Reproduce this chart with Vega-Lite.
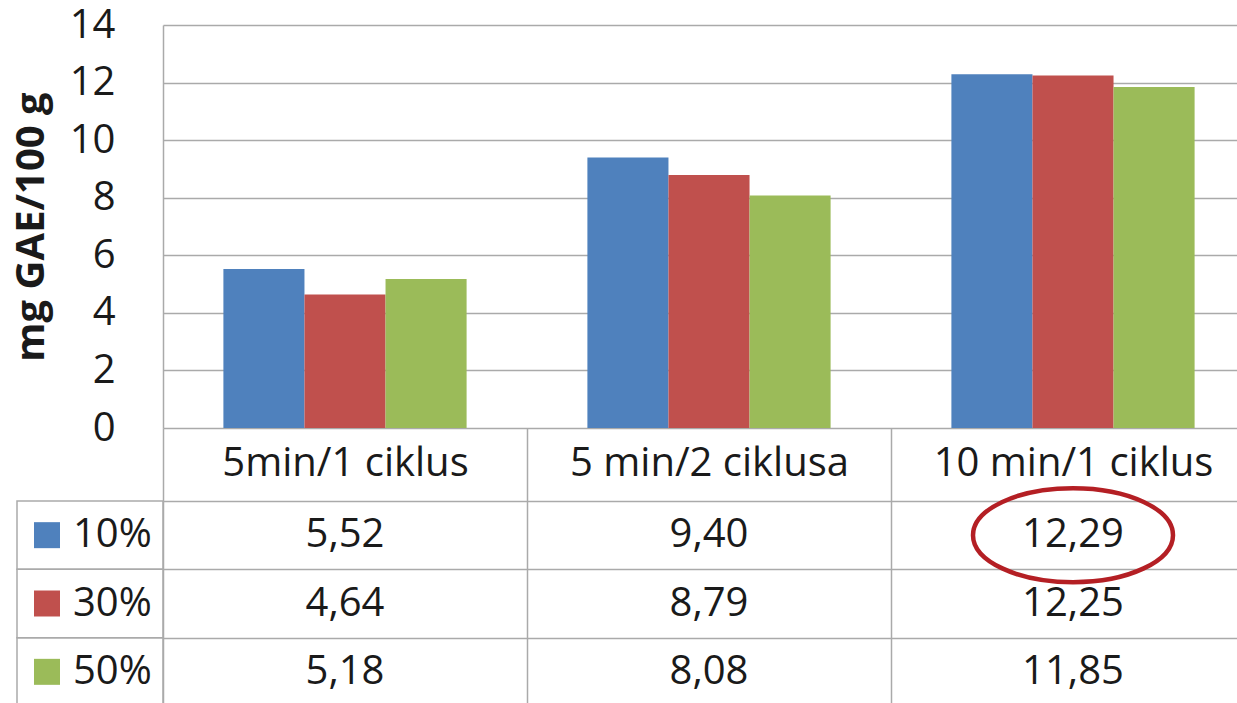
{
  "$schema": "https://vega.github.io/schema/vega-lite/v6.json",
  "background": "white",
  "padding": {"left": 11, "top": 5, "right": 0, "bottom": 0},
  "config": {
    "font": "Open Sans",
    "view": {"stroke": null},
    "locale": {
      "number": {"decimal": ",", "thousands": ".", "grouping": [3], "currency": ["", ""]}
    },
    "axis": {
      "labelFont": "Open Sans",
      "titleFont": "Open Sans",
      "labelColor": "#1a1a1a",
      "titleColor": "#1a1a1a",
      "gridColor": "#aaaaaa",
      "gridWidth": 1.5,
      "domainColor": "#aaaaaa",
      "domainWidth": 1.5,
      "tickColor": "#aaaaaa",
      "tickWidth": 1.5
    }
  },
  "datasets": {
    "extract": [
      {"method": "5min/1 ciklus", "ratio": "10%", "value": 5.52},
      {"method": "5min/1 ciklus", "ratio": "30%", "value": 4.64},
      {"method": "5min/1 ciklus", "ratio": "50%", "value": 5.18},
      {"method": "5 min/2 ciklusa", "ratio": "10%", "value": 9.40},
      {"method": "5 min/2 ciklusa", "ratio": "30%", "value": 8.79},
      {"method": "5 min/2 ciklusa", "ratio": "50%", "value": 8.08},
      {"method": "10 min/1 ciklus", "ratio": "10%", "value": 12.29},
      {"method": "10 min/1 ciklus", "ratio": "30%", "value": 12.25},
      {"method": "10 min/1 ciklus", "ratio": "50%", "value": 11.85}
    ],
    "highlight": [
      {"method": "10 min/1 ciklus", "ratio": "10%"}
    ]
  },
  "spacing": 73,
  "bounds": "flush",
  "vconcat": [
    {
      "width": 1092,
      "height": 403,
      "data": {"name": "extract"},
      "mark": {"type": "bar"},
      "encoding": {
        "x": {
          "field": "method",
          "type": "nominal",
          "scale": {
            "domain": ["5min/1 ciklus", "5 min/2 ciklusa", "10 min/1 ciklus"],
            "paddingInner": 0,
            "paddingOuter": 0
          },
          "axis": {
            "title": null,
            "orient": "bottom",
            "domain": false,
            "tickBand": "extent",
            "tickSize": 73,
            "labelAngle": 0,
            "labelFontSize": 40,
            "labelBaseline": "middle",
            "labelPadding": -38,
            "labelLimit": 0
          }
        },
        "xOffset": {
          "field": "ratio",
          "type": "nominal",
          "scale": {"domain": ["10%", "30%", "50%"], "paddingInner": 0, "paddingOuter": 0.745}
        },
        "y": {
          "field": "value",
          "type": "quantitative",
          "scale": {"domain": [0, 14], "nice": false},
          "axis": {
            "values": [0, 2, 4, 6, 8, 10, 12, 14],
            "format": "d",
            "title": "mg GAE/100 g",
            "titleFontSize": 40,
            "titleFontWeight": "bold",
            "titlePadding": 18,
            "labelFontSize": 40,
            "labelPadding": 48,
            "ticks": false,
            "domain": true,
            "grid": true
          }
        },
        "color": {
          "field": "ratio",
          "type": "nominal",
          "scale": {"domain": ["10%", "30%", "50%"], "range": ["#4f81bd", "#c0504d", "#9bbb59"]},
          "legend": null
        }
      }
    },
    {
      "width": 1092,
      "height": 205,
      "layer": [
        {
          "data": {"name": "extract"},
          "mark": {"type": "text", "fontSize": 40, "color": "#1a1a1a", "baseline": "middle"},
          "encoding": {
            "x": {
              "field": "method",
              "type": "nominal",
              "scale": {
                "domain": ["5min/1 ciklus", "5 min/2 ciklusa", "10 min/1 ciklus"],
                "paddingInner": 0,
                "paddingOuter": 0
              },
              "axis": {
                "orient": "top",
                "title": null,
                "labels": false,
                "ticks": false,
                "domain": false,
                "grid": true,
                "tickBand": "extent"
              }
            },
            "y": {
              "field": "ratio",
              "type": "nominal",
              "scale": {"domain": ["10%", "30%", "50%"], "paddingInner": 0, "paddingOuter": 0},
              "axis": {
                "title": null,
                "labels": false,
                "ticks": false,
                "domain": false,
                "grid": true,
                "tickBand": "extent"
              }
            },
            "text": {"field": "value", "type": "quantitative", "format": ".2f"}
          }
        },
        {
          "data": {"name": "highlight"},
          "mark": {
            "type": "point",
            "shape": "M-1,0A1,0.47,0,1,1,1,0A1,0.47,0,1,1,-1,0Z",
            "size": 40000,
            "filled": false,
            "stroke": "#b41f24",
            "strokeWidth": 4.5,
            "opacity": 1
          },
          "encoding": {
            "x": {
              "field": "method",
              "type": "nominal",
              "scale": {
                "domain": ["5min/1 ciklus", "5 min/2 ciklusa", "10 min/1 ciklus"],
                "paddingInner": 0,
                "paddingOuter": 0
              },
              "axis": null
            },
            "y": {"field": "ratio", "type": "nominal"}
          }
        },
        {
          "data": {"name": "extract"},
          "transform": [{"filter": "datum.method === '5min/1 ciklus'"}],
          "encoding": {
            "x": {
              "datum": "key",
              "type": "nominal",
              "scale": {"domain": ["key"], "range": [-146, 0], "paddingInner": 0, "paddingOuter": 0},
              "axis": null
            },
            "y": {"field": "ratio", "type": "nominal"}
          },
          "layer": [
            {"mark": {"type": "rect", "filled": false, "stroke": "#aaaaaa", "strokeWidth": 1.5}},
            {
              "mark": {"type": "point", "shape": "square", "filled": true, "size": 676, "xOffset": -43, "opacity": 1},
              "encoding": {
                "color": {
                  "field": "ratio",
                  "type": "nominal",
                  "scale": {"domain": ["10%", "30%", "50%"], "range": ["#4f81bd", "#c0504d", "#9bbb59"]},
                  "legend": null
                }
              }
            },
            {
              "mark": {"type": "text", "align": "left", "baseline": "middle", "dx": -17, "fontSize": 40, "color": "#1a1a1a"},
              "encoding": {"text": {"field": "ratio", "type": "nominal"}}
            }
          ]
        }
      ],
      "resolve": {"scale": {"x": "independent"}, "axis": {"x": "independent"}}
    }
  ]
}
